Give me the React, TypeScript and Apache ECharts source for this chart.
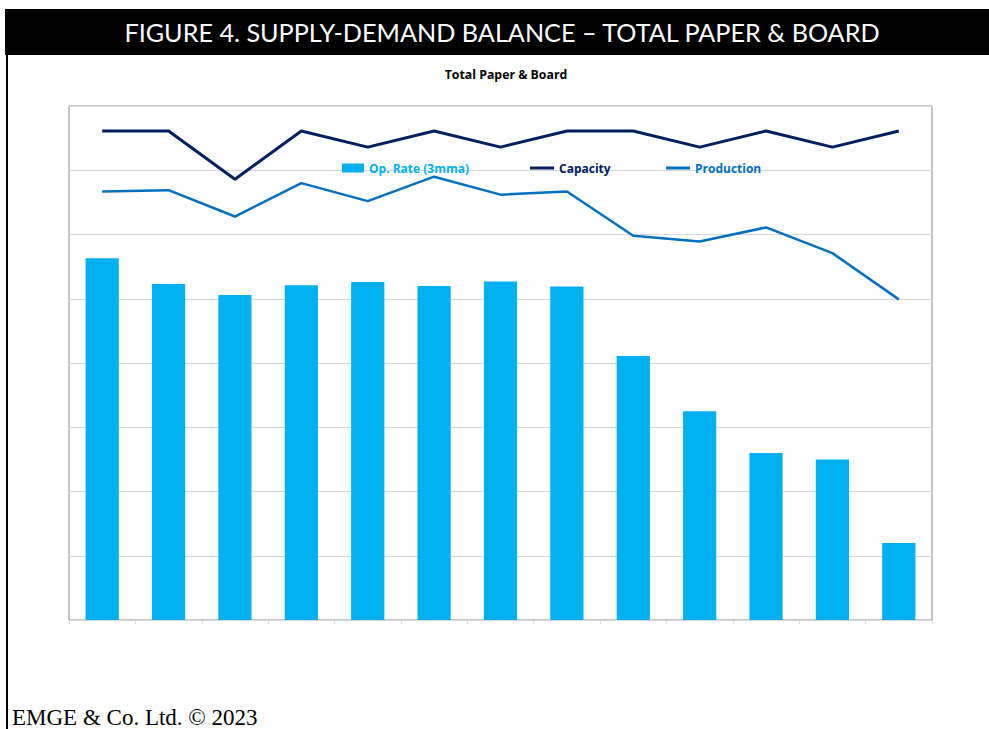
import React, { useEffect, useRef } from "react";
import * as echarts from "echarts";

const categories = ["1", "2", "3", "4", "5", "6", "7", "8", "9", "10", "11", "12", "13"];
const opRate = [5.63, 5.23, 5.06, 5.21, 5.26, 5.2, 5.27, 5.19, 4.11, 3.25, 2.6, 2.5, 1.2];
const capacity = [7.61, 7.61, 6.86, 7.61, 7.36, 7.61, 7.36, 7.61, 7.61, 7.36, 7.61, 7.36, 7.61];
const production = [6.67, 6.69, 6.28, 6.8, 6.52, 6.9, 6.62, 6.67, 5.98, 5.89, 6.11, 5.71, 4.99];

const headerTitle = "FIGURE 4. SUPPLY-DEMAND BALANCE – TOTAL PAPER & BOARD";
const chartTitle = "Total Paper & Board";
const footer = "EMGE & Co. Ltd. © 2023";
const names = ["Op. Rate (3mma)", "Capacity", "Production"];
const colors = ["#00b0f0", "#002060", "#0070c0"];

export default function App() {
  const ref = useRef<HTMLDivElement>(null);
  useEffect(() => {
    if (!ref.current) return;
    const chart = echarts.init(ref.current, undefined, { renderer: "svg" });
    const legendFont = { fontFamily: "Open Sans", fontWeight: "bold" as const, fontSize: 12 };
    chart.setOption({
      animation: false,
      backgroundColor: "#ffffff",
      graphic: [
        { type: "rect", shape: { x: 5, y: 9, width: 984, height: 46 }, style: { fill: "#000" } },
        { type: "rect", shape: { x: 6, y: 55, width: 2, height: 674 }, style: { fill: "#000" } },
        {
          type: "text",
          x: 502,
          y: 32,
          style: {
            text: headerTitle,
            fill: "#fff",
            font: "25.2px Lato",
            align: "center",
            verticalAlign: "middle",
          },
        },
        {
          type: "text",
          x: 506,
          y: 74,
          style: {
            text: chartTitle,
            fill: "#000",
            font: "bold 12.3px 'Open Sans'",
            align: "center",
            verticalAlign: "middle",
          },
        },
        {
          type: "text",
          x: 12,
          y: 717,
          style: {
            text: footer,
            fill: "#000",
            font: "23px 'Liberation Serif'",
            align: "left",
            verticalAlign: "middle",
          },
        },
      ],
      legend: [
        {
          left: 342,
          top: 162,
          padding: 0,
          itemWidth: 22,
          itemHeight: 9,
          data: [{ name: names[0], icon: "rect" }],
          textStyle: { ...legendFont, color: colors[0] },
        },
        {
          left: 530,
          top: 162,
          padding: 0,
          itemWidth: 24,
          itemHeight: 3,
          data: [{ name: names[1], icon: "rect" }],
          textStyle: { ...legendFont, color: colors[1] },
        },
        {
          left: 666,
          top: 162,
          padding: 0,
          itemWidth: 24,
          itemHeight: 3,
          data: [{ name: names[2], icon: "rect" }],
          textStyle: { ...legendFont, color: colors[2] },
        },
      ],
      grid: {
        left: 69,
        top: 106,
        width: 863,
        height: 514,
        show: true,
        borderColor: "#8c8c8c",
        borderWidth: 1,
        containLabel: false,
      },
      xAxis: {
        type: "category",
        data: categories,
        axisLine: { show: true, lineStyle: { color: "#d9d9d9", width: 1 } },
        axisTick: { show: true, length: 4, lineStyle: { color: "#d9d9d9" } },
        axisLabel: { show: false },
        splitLine: { show: false },
      },
      yAxis: {
        type: "value",
        min: 0,
        max: 8,
        interval: 1,
        axisLabel: { show: false },
        axisLine: { show: false },
        axisTick: { show: false },
        splitLine: { show: true, lineStyle: { color: "#d9d9d9", width: 1 } },
      },
      series: [
        {
          name: names[0],
          type: "bar",
          data: opRate,
          barWidth: "50%",
          itemStyle: { color: colors[0] },
          z: 2,
        },
        {
          name: names[1],
          type: "line",
          data: capacity,
          symbol: "none",
          lineStyle: { color: colors[1], width: 3 },
          itemStyle: { color: colors[1] },
          z: 3,
        },
        {
          name: names[2],
          type: "line",
          data: production,
          symbol: "none",
          lineStyle: { color: colors[2], width: 2.5 },
          itemStyle: { color: colors[2] },
          z: 3,
        },
      ],
    });
    return () => chart.dispose();
  }, []);
  return (
    <div
      ref={ref}
      style={{ position: "fixed", left: 0, top: 0, width: 989, height: 729 }}
    />
  );
}
